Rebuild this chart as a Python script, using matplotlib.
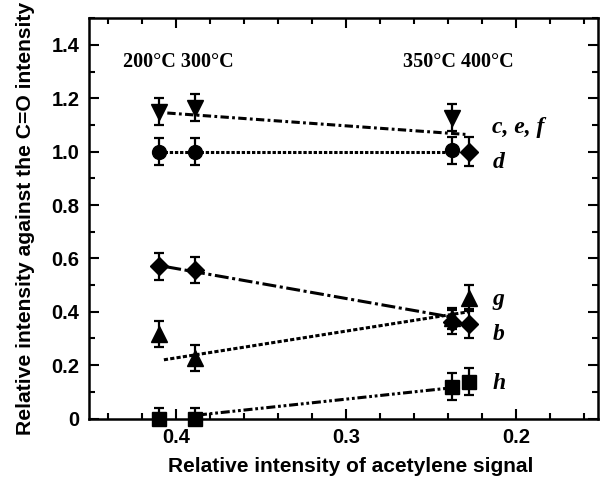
import numpy as np
import matplotlib
matplotlib.use("Agg")
import matplotlib.pyplot as plt
from matplotlib.ticker import MultipleLocator

plt.rcParams['lines.scale_dashes'] = False

# acetylene signal at 200, 300, 350, 400 C
x_temp = [0.410, 0.389, 0.238, 0.228]
temp_text = ["200\u00b0C 300\u00b0C", "350\u00b0C 400\u00b0C"]

# series values (y, error)
cef_y = [1.150, 1.165, 1.128]
cef_err = [0.05, 0.05, 0.05]
d_y = [1.000, 1.000, 1.005]
d_err = [0.05, 0.05, 0.05]
d400_y = [1.000]
d400_err = [0.055]
b_y = [0.570, 0.557, 0.362, 0.355]
b_err = [0.05, 0.05, 0.045, 0.055]
g_y = [0.317, 0.227, 0.375, 0.452]
g_err = [0.05, 0.05, 0.04, 0.05]
h_y = [0.000, 0.000, 0.119, 0.138]
h_err = [0.04, 0.04, 0.05, 0.05]

# trend lines (x ends, y ends)
cef_fit_x, cef_fit_y = [0.405, 0.228], [1.145, 1.064]
d_fit_x, d_fit_y = [0.410, 0.238], [1.000, 1.000]
b_fit_x, b_fit_y = [0.405, 0.238], [0.568, 0.380]
g_fit_x, g_fit_y = [0.407, 0.228], [0.220, 0.400]
h_fit_x, h_fit_y = [0.387, 0.238], [0.013, 0.115]

series_labels = ["c, e, f", "d", "g", "b", "h"]
label_y = [1.09, 0.958, 0.445, 0.313, 0.133]

fig = plt.figure(figsize=(6.0, 4.82), dpi=100)
ax = fig.add_axes([89/600, 1-418.5/482, 509/600, 400.2/482])

lw = 2.2
ax.plot(cef_fit_x, cef_fit_y, color='k', lw=lw, dashes=(6, 2.4, 2, 2.4))
ax.plot(d_fit_x, d_fit_y, color='k', lw=lw, dashes=(2.4, 1.3))
ax.plot(b_fit_x, b_fit_y, color='k', lw=lw, dashes=(10, 2.6, 2.2, 2.6))
ax.plot(g_fit_x, g_fit_y, color='k', lw=lw, dashes=(3, 1.6))
ax.plot(h_fit_x, h_fit_y, color='k', lw=lw, dashes=(6.5, 2, 2, 2, 2, 2))

ekw = dict(fmt='none', ecolor='k', elinewidth=1.6, capsize=3.8, capthick=1.6)
ax.errorbar(x_temp[:3], cef_y, yerr=cef_err, **ekw)
ax.errorbar(x_temp[:3], d_y, yerr=d_err, **ekw)
ax.errorbar(x_temp[3:], d400_y, yerr=d400_err, **ekw)
ax.errorbar(x_temp, b_y, yerr=b_err, **ekw)
ax.errorbar(x_temp, g_y, yerr=g_err, **ekw)
ax.errorbar(x_temp, h_y, yerr=h_err, **ekw)

ax.plot(x_temp[:3], cef_y, 'v', color='k', ms=11, ls='none')
ax.plot(x_temp[:3], d_y, 'o', color='k', ms=10, ls='none')
ax.plot(x_temp[3:], d400_y, 'D', color='k', ms=9, ls='none')
ax.plot(x_temp, g_y, '^', color='k', ms=11, ls='none')
ax.plot(x_temp, b_y, 'D', color='k', ms=9, ls='none')
ax.plot(x_temp, h_y, 's', color='k', ms=10, ls='none', clip_on=False)

for lab, yy in zip(series_labels, label_y):
    ax.text(0.214, yy, lab, family='Liberation Serif', style='italic',
            weight='bold', fontsize=17, va='center', ha='left')

ax.text(0.4312, 1.338, temp_text[0], family='Liberation Serif', weight='bold',
        fontsize=14.5, va='center', ha='left')
ax.text(0.2665, 1.338, temp_text[1], family='Liberation Serif', weight='bold',
        fontsize=14.5, va='center', ha='left')

ax.set_xlim(0.451, 0.152)
ax.set_ylim(0, 1.5)
ax.xaxis.set_minor_locator(MultipleLocator(0.02))
ax.yaxis.set_minor_locator(MultipleLocator(0.1))
ax.set_yticks([0, 0.2, 0.4, 0.6, 0.8, 1.0, 1.2, 1.4])
ax.set_yticklabels(['0', '0.2', '0.4', '0.6', '0.8', '1.0', '1.2', '1.4'])
ax.set_xticks([0.4, 0.3, 0.2])
ax.set_xticklabels(['0.4', '0.3', '0.2'])

ax.tick_params(which='both', direction='in', top=True, right=True, width=1.5)
ax.tick_params(which='major', length=7, pad=7, labelsize=14.5)
ax.tick_params(which='minor', length=4)
for lbl in ax.get_xticklabels() + ax.get_yticklabels():
    lbl.set_family('Liberation Sans')
    lbl.set_weight('bold')
for sp in ax.spines.values():
    sp.set_linewidth(1.8)

ax.set_xlabel('Relative intensity of acetylene signal', family='Liberation Sans',
              weight='bold', fontsize=15, labelpad=7)
ax.xaxis.set_label_coords(0.515, -0.095)
ax.set_ylabel('Relative intensity against the C=O intensity', family='Liberation Sans',
              weight='bold', fontsize=15.2, labelpad=12)

fig.savefig('out.png', dpi=100)
